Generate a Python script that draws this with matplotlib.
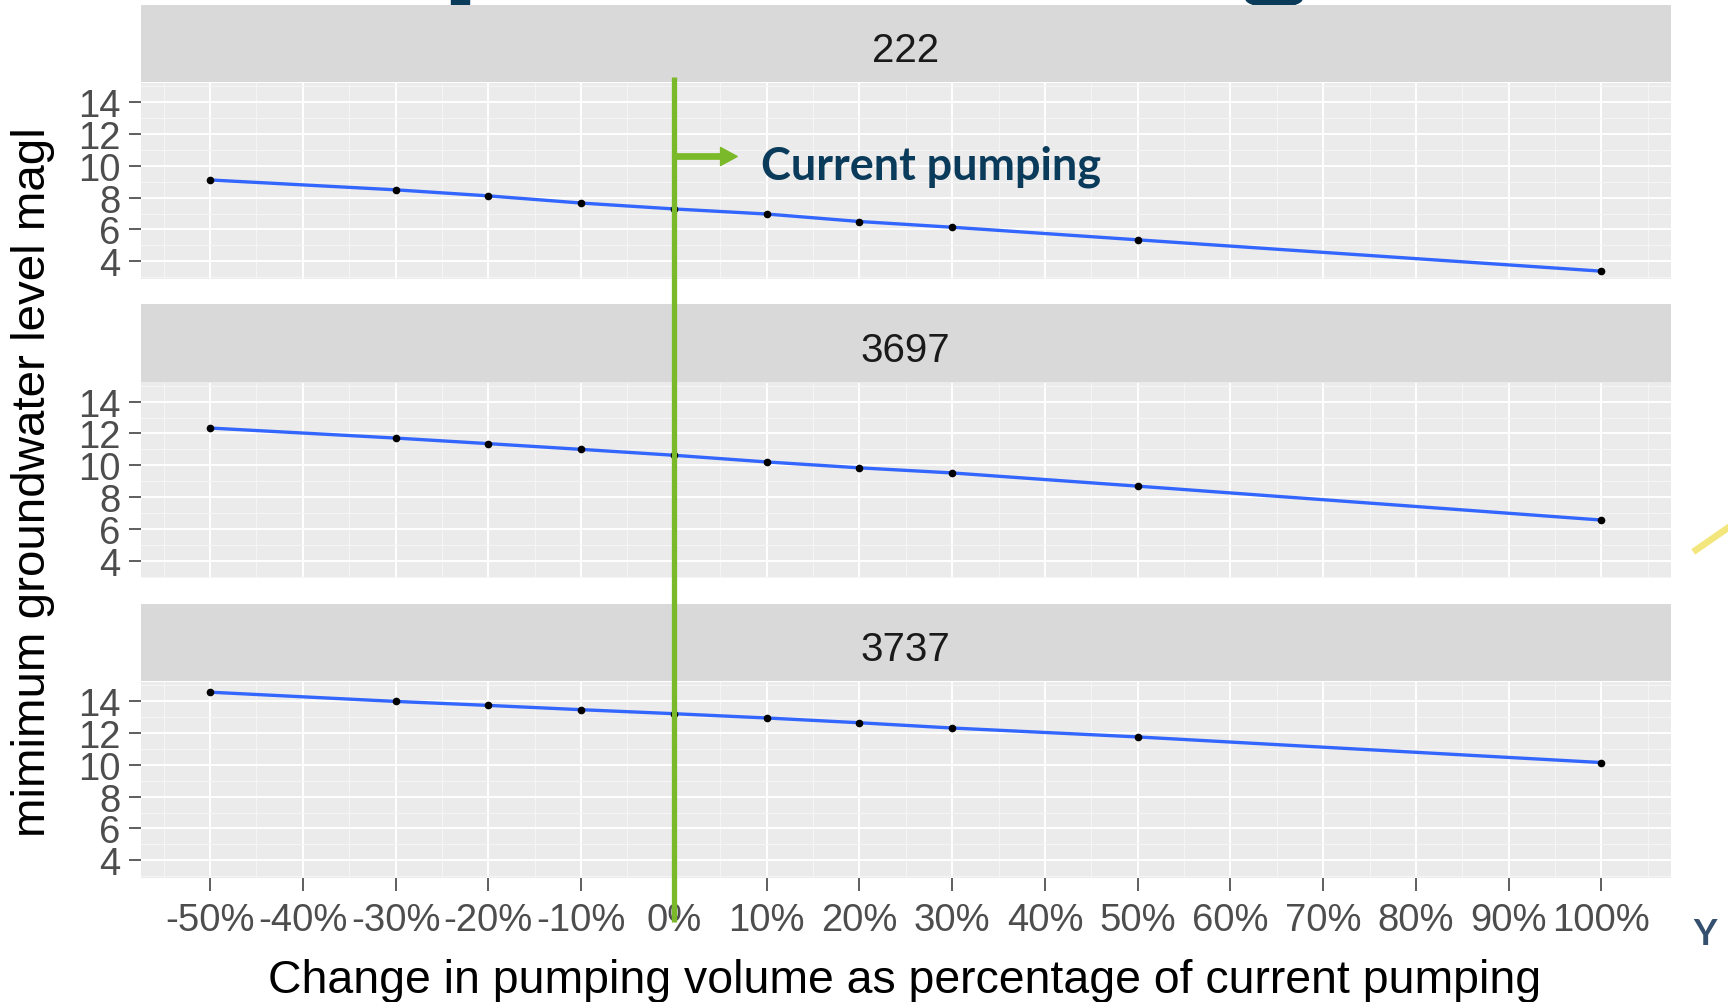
import matplotlib
matplotlib.use("Agg")
import matplotlib.pyplot as plt
from matplotlib.patches import Rectangle, FancyArrowPatch, Ellipse
from matplotlib.lines import Line2D
from matplotlib.transforms import blended_transform_factory

# pumping scenarios (% change from current pumping)
pct = [-50, -30, -20, -10, 0, 10, 20, 30, 50, 100]

# minimum groundwater level (magl) per well
wells = ["222", "3697", "3737"]
level_222 = [9.11, 8.49, 8.11, 7.66, 7.29, 6.97, 6.50, 6.14, 5.35, 3.38]
level_3697 = [12.34, 11.71, 11.36, 11.00, 10.63, 10.21, 9.84, 9.52, 8.69, 6.56]
level_3737 = [14.56, 13.98, 13.73, 13.46, 13.21, 12.94, 12.64, 12.31, 11.75, 10.14]
levels = [level_222, level_3697, level_3737]

xticks = list(range(-50, 101, 10))
yticks = [4, 6, 8, 10, 12, 14]

W, H = 1728, 1003
plt.rcParams['font.family'] = ['Liberation Sans', 'DejaVu Sans']

fig = plt.figure(figsize=(W / 100, H / 100), dpi=100)
fig.patch.set_facecolor('white')

left, right = 140.5, 1671
strip_tops = [5.5, 305, 604.5]
strip_h = 77.5
panel_h = 195.5


def fbox(x0, y_top, w, h):
    # pixel box (top origin) -> figure fraction
    return [x0 / W, 1 - (y_top + h) / H, w / W, h / H]


axes = []
for i, (name, vals) in enumerate(zip(wells, levels)):
    top = strip_tops[i]
    # facet strip
    sax = fig.add_axes(fbox(left, top, right - left, strip_h))
    sax.set_facecolor('#D9D9D9')
    sax.set_xticks([]); sax.set_yticks([])
    for s in sax.spines.values():
        s.set_visible(False)
    sax.text(0.5, 0.41, name, ha='center', va='center', fontsize=29,
             color='#1A1A1A', transform=sax.transAxes)

    ax = fig.add_axes(fbox(left, top + strip_h + 1, right - left, panel_h))
    ax.set_facecolor('#EBEBEB')
    ax.set_xlim(-57.5, 107.5)
    ax.set_ylim(2.92, 15.2)
    ax.set_xticks(xticks)
    ax.set_xticks([x + 5 for x in range(-60, 101, 10)], minor=True)
    ax.set_yticks(yticks)
    ax.set_yticks([3, 5, 7, 9, 11, 13, 15], minor=True)
    ax.grid(which='major', color='white', lw=1.4)
    ax.grid(which='minor', color='#F5F5F5', lw=0.8)
    ax.set_axisbelow(True)
    for s in ax.spines.values():
        s.set_visible(False)
    ax.tick_params(axis='y', which='major', length=8.5, width=1.1, color='#333333',
                   labelsize=27.5, labelcolor='#4D4D4D', pad=6)
    ax.tick_params(which='minor', length=0)
    if i < 2:
        ax.tick_params(axis='x', which='major', length=0, labelbottom=False)
    else:
        ax.tick_params(axis='x', which='major', length=9, width=1.1, color='#333333',
                       labelsize=27.5, labelcolor='#4D4D4D', pad=9)
        ax.set_xticklabels([f"{x}%" for x in xticks])

    ax.plot(pct, vals, color='#3366FF', lw=2.4, zorder=3)
    ax.plot(pct, vals, 'o', color='black', ms=4.5, zorder=4)
    axes.append(ax)

# axis titles
fig.text(905 / W, 1 - 993 / H, "Change in pumping volume as percentage of current pumping",
         ha='center', va='baseline', fontsize=33.4, color='black')
fig.text(33 / W, 1 - 482 / H, "mimimum groundwater level magl", rotation=90,
         ha='center', va='center', fontsize=34.2, color='black')

# current pumping marker
green = '#7AB929'
trans = blended_transform_factory(axes[2].transData, fig.transFigure)
fig.add_artist(Line2D([0, 0], [1 - 78 / H, 1 - 923 / H], transform=trans,
                      color=green, lw=3.8, solid_capstyle='butt', zorder=10))
arrow = FancyArrowPatch((672, H - 157.5), (740, H - 157.5), transform=None,
                        arrowstyle="simple,head_length=1.2,head_width=1.3,tail_width=0.38",
                        mutation_scale=10, color=green, zorder=10)
fig.add_artist(arrow)
fig.text(761 / W, 1 - 180 / H, "Current pumping", ha='left', va='baseline',
         fontsize=32.4, fontweight='bold', family=['Lato', 'DejaVu Sans'], color='#0B3B5A')

# slide remnants around the chart
fig.add_artist(Line2D([1696 / W, 1745 / W], [1 - 551 / H, 1 - 517 / H],
                      transform=fig.transFigure, color='#F3E67C', lw=4.8, zorder=1))
fig.text(1705 / W, 1 - 945 / H, "Y", ha='center', va='baseline', fontsize=26,
         fontweight='bold', family=['Lato', 'DejaVu Sans'], color='#34506E')
fig.add_artist(Ellipse((1274 / W, 1.0), 56 / W, 16 / H, transform=fig.transFigure,
                       color='#0B3B5A', zorder=0))
fig.add_artist(Rectangle((451 / W, 1 - 7 / H), 18 / W, 8 / H, transform=fig.transFigure,
                         color='#0B3B5A', zorder=0))

fig.savefig("out.png", dpi=100, facecolor='white')
